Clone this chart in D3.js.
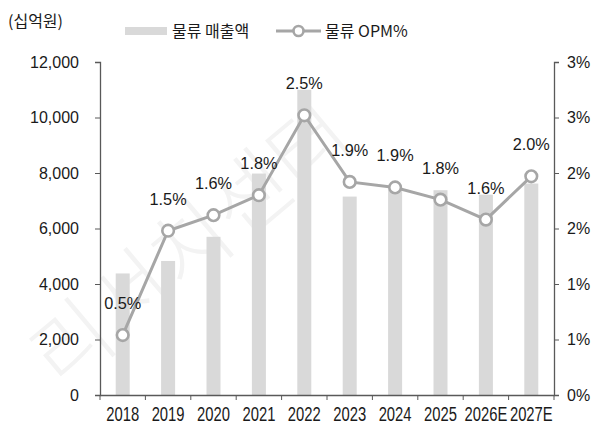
<!DOCTYPE html>
<html>
<head>
<meta charset="utf-8">
<script src="https://cdn.jsdelivr.net/npm/d3@7"></script>
<style>
  body { margin: 0; background: #fff; }
  svg { display: block; }
  .num { font-family: "Liberation Sans", Arial, sans-serif; fill: #1a1a1a; }
  .kr { font-family: "Noto Sans CJK KR", sans-serif; fill: #1a1a1a; }
</style>
</head>
<body>
<script>
// chart data
const years = ["2018", "2019", "2020", "2021", "2022", "2023", "2024", "2025", "2026E", "2027E"];
const sales = [4380, 4830, 5700, 7980, 11000, 7150, 7400, 7380, 7220, 7620];   // 십억원
const opm = [0.54, 1.48, 1.62, 1.80, 2.52, 1.92, 1.87, 1.76, 1.58, 1.97];       // %
const opmLabels = ["0.5%", "1.5%", "1.6%", "1.8%", "2.5%", "1.9%", "1.9%", "1.8%", "1.6%", "2.0%"];
const leftTicks = [0, 2000, 4000, 6000, 8000, 10000, 12000];
const rightTicks = [0, 0.5, 1, 1.5, 2, 2.5, 3];

const width = 604, height = 431;
const plotL = 100, plotR = 554, plotT = 62, plotB = 395;

const svg = d3.select("body").append("svg")
    .attr("width", width)
    .attr("height", height);

// watermark
svg.append("text")
    .attr("class", "kr")
    .attr("transform", "translate(195,250) rotate(-40)")
    .attr("text-anchor", "middle")
    .attr("dominant-baseline", "middle")
    .style("font-size", "84px")
    .style("font-weight", 300)
    .style("fill", "#f3f3f3")
    .text("리서치센터");

const x = d3.scaleBand().domain(years).range([plotL, plotR]).padding(0);
const yL = d3.scaleLinear().domain([0, 12000]).range([plotB, plotT]);
const yR = d3.scaleLinear().domain([0, 3]).range([plotB, plotT]);
const barW = 14;

// bars
svg.append("g")
    .selectAll("rect")
    .data(years)
    .join("rect")
    .attr("x", d => x(d) + (x.bandwidth() - barW) / 2)
    .attr("y", (d, i) => yL(sales[i]))
    .attr("width", barW)
    .attr("height", (d, i) => yL(0) - yL(sales[i]))
    .attr("fill", "#d9d9d9");

// axes
const axisColor = "#595959";

const gL = svg.append("g")
    .attr("transform", `translate(${plotL},0)`)
    .call(d3.axisLeft(yL).tickValues(leftTicks).tickSize(5).tickPadding(16).tickFormat(d3.format(",")));

const gR = svg.append("g")
    .attr("transform", `translate(${plotR},0)`)
    .call(d3.axisRight(yR).tickValues(rightTicks).tickSize(5).tickPadding(8).tickFormat(d => Math.round(d) + "%"));

const gX = svg.append("g")
    .attr("transform", `translate(0,${plotB})`)
    .call(d3.axisBottom(x).tickSize(0).tickPadding(12));

// category boundary ticks on the x axis
gX.selectAll(".edge")
    .data(years.map(d => x(d)).concat([plotR]))
    .join("line")
    .attr("class", "edge")
    .attr("x1", d => d).attr("x2", d => d)
    .attr("y1", 0).attr("y2", 5)
    .attr("stroke", axisColor);

[gL, gR, gX].forEach(g => {
    g.select(".domain").attr("stroke", axisColor).attr("stroke-width", 1.3);
    g.selectAll(".tick line").attr("stroke", axisColor);
    g.selectAll(".tick text").attr("class", "num").style("font-size", "16px");
});
// condensed year labels
gX.selectAll(".tick text")
    .style("font-size", "19.5px")
    .attr("transform", "scale(0.76,1)");

// OPM line
const lineColor = "#a6a6a6";
const line = d3.line()
    .x((d, i) => x(years[i]) + x.bandwidth() / 2)
    .y(d => yR(d));

svg.append("path")
    .datum(opm)
    .attr("fill", "none")
    .attr("stroke", lineColor)
    .attr("stroke-width", 3)
    .attr("d", line);

svg.append("g")
    .selectAll("circle")
    .data(opm)
    .join("circle")
    .attr("cx", (d, i) => x(years[i]) + x.bandwidth() / 2)
    .attr("cy", d => yR(d))
    .attr("r", 5.8)
    .attr("fill", "#fff")
    .attr("stroke", lineColor)
    .attr("stroke-width", 2.6);

svg.append("g")
    .selectAll("text")
    .data(opm)
    .join("text")
    .attr("class", "num")
    .attr("x", (d, i) => x(years[i]) + x.bandwidth() / 2)
    .attr("y", d => yR(d) - 26)
    .attr("text-anchor", "middle")
    .style("font-size", "16.3px")
    .text((d, i) => opmLabels[i]);

// unit label
svg.append("text")
    .attr("class", "kr")
    .attr("x", 8)
    .attr("y", 27)
    .style("font-size", "16px")
    .text("(십억원)");

// legend
const legend = svg.append("g");
legend.append("rect")
    .attr("x", 125).attr("y", 27)
    .attr("width", 42).attr("height", 8)
    .attr("fill", "#d9d9d9");
legend.append("text")
    .attr("class", "kr")
    .attr("x", 172).attr("y", 37)
    .style("font-size", "16px")
    .text("물류 매출액");
legend.append("line")
    .attr("x1", 276).attr("x2", 321)
    .attr("y1", 31).attr("y2", 31)
    .attr("stroke", lineColor)
    .attr("stroke-width", 3);
legend.append("circle")
    .attr("cx", 298.5).attr("cy", 31)
    .attr("r", 5)
    .attr("fill", "#fff")
    .attr("stroke", lineColor)
    .attr("stroke-width", 2.6);
legend.append("text")
    .attr("class", "kr")
    .attr("x", 325).attr("y", 37)
    .style("font-size", "16px")
    .text("물류 OPM%");
</script>
</body>
</html>
